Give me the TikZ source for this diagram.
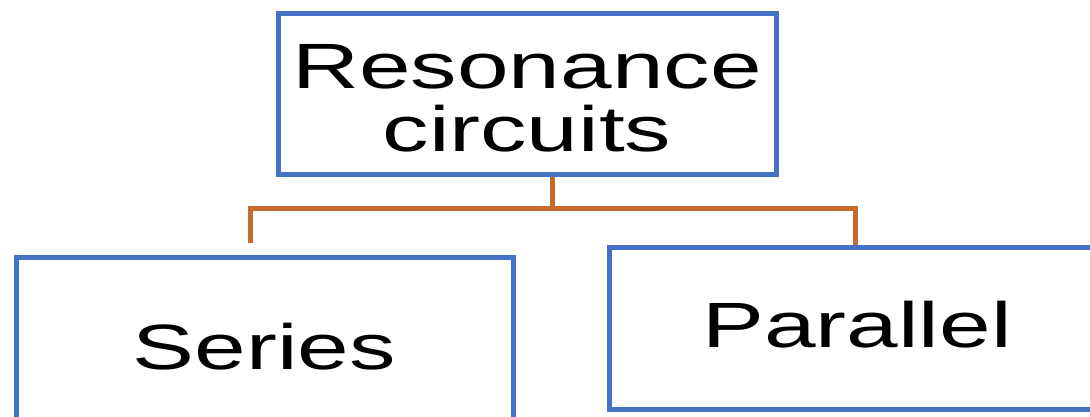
\documentclass[tikz,border=0pt]{standalone}
\usepackage{fontspec}
\setmainfont[FakeStretch=1.45]{Liberation Sans}
\definecolor{boxblue}{RGB}{68,114,196}
\definecolor{connorange}{RGB}{197,108,45}
\begin{document}
\begin{tikzpicture}[x=1pt,y=-1pt,
  box/.style={draw=boxblue,line width=5pt,inner sep=0pt,align=center,
    font=\fontsize{64}{63}\selectfont},
  conn/.style={draw=connorange,line width=5pt}]
\useasboundingbox (0,0) rectangle (1090,416);
\clip (0,0) rectangle (1090,416);
\node[box,minimum width=498pt,minimum height=161pt,text height=116pt] (top) at (527,93.5) {Resonance\\circuits};
\node[box,minimum width=497pt,minimum height=162pt,text height=63pt] (series) at (264.5,338) {Series};
\node[box,minimum width=496pt,minimum height=162pt,text height=40pt] (parallel) at (857,328) {Parallel};
\coordinate (hub) at (552,208);
\coordinate (lend) at (250,243);
\coordinate (rdrop) at (855,0);
\draw[conn] (top.south -| hub) -- (hub);
\draw[conn] (lend) |- (hub) -| (parallel.north -| rdrop);
\end{tikzpicture}
\end{document}
